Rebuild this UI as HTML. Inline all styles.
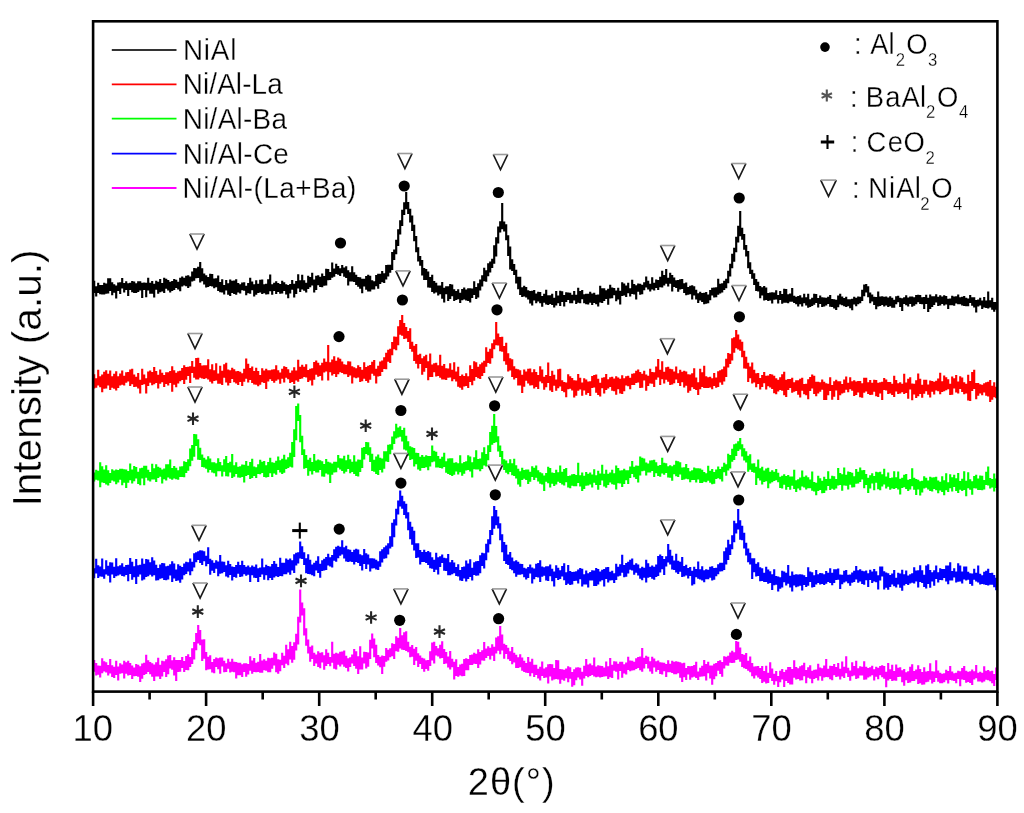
<!DOCTYPE html>
<html><head><meta charset="utf-8"><style>
html,body{margin:0;padding:0;background:#fff;}
svg{display:block;filter:blur(0.45px);}
text{font-family:"Liberation Sans",sans-serif;fill:#000;stroke:#fff;stroke-width:0.3px;paint-order:fill stroke;}
</style></head><body>
<svg width="1024" height="813" viewBox="0 0 1024 813">
<rect x="0" y="0" width="1024" height="813" fill="#fff"/>
<path d="M94.2,281.7V291.9M96.2,287.4V295.3M98.2,283.8V291.8M100.2,286.1V293.2M102.2,286.1V293.3M104.2,283.9V293.5M106.2,284.5V292.7M108.2,279.2V292.5M110.2,279.2V289.9M112.2,283.3V294.1M114.2,285.4V291.6M116.2,286.5V297.3M118.2,283.6V290.0M120.2,283.2V292.9M122.2,279.0V287.5M124.2,284.0V291.4M126.2,282.3V288.9M128.2,284.4V294.9M130.2,283.7V289.0M132.2,282.0V291.1M134.2,282.6V291.8M136.2,284.2V292.0M138.2,282.2V291.0M140.2,282.4V289.3M142.2,283.8V296.8M144.2,283.6V288.8M146.2,283.9V296.2M148.2,278.8V289.4M150.2,283.7V292.6M152.2,282.1V292.6M154.2,284.9V296.5M156.2,281.8V288.6M158.2,282.7V292.6M160.2,280.0V291.1M162.2,284.0V290.3M164.2,278.7V292.0M166.2,279.9V287.7M168.2,281.0V289.3M170.2,282.8V291.5M172.2,282.0V290.0M174.2,280.0V289.0M176.2,280.7V286.9M178.2,282.7V288.4M180.2,278.7V290.2M182.2,277.6V285.5M184.2,278.9V284.3M186.2,276.7V285.2M188.2,276.2V286.9M190.2,277.6V285.4M192.2,272.6V280.5M194.2,269.1V279.6M196.2,269.2V277.2M198.2,267.8V277.0M200.2,263.0V281.4M202.2,269.2V280.1M204.2,274.5V283.5M206.2,276.3V286.4M208.2,278.1V285.8M210.2,274.9V284.8M212.2,275.0V285.3M214.2,279.6V287.1M216.2,279.4V286.2M218.2,276.6V289.9M220.2,283.0V291.1M222.2,280.2V291.4M224.2,286.0V293.4M226.2,281.1V289.3M228.2,284.3V293.6M230.2,280.6V294.8M232.2,281.9V291.9M234.2,281.6V293.0M236.2,280.2V293.7M238.2,284.0V291.4M240.2,285.3V292.3M242.2,283.6V289.2M244.2,283.4V289.6M246.2,286.8V294.2M248.2,284.1V292.1M250.2,278.9V292.7M252.2,282.6V289.1M254.2,285.2V295.3M256.2,281.2V293.6M258.2,284.7V291.8M260.2,280.7V291.5M262.2,280.5V293.0M264.2,285.3V292.2M266.2,284.9V293.4M268.2,280.4V293.2M270.2,275.6V290.1M272.2,285.2V293.6M274.2,283.7V289.9M276.2,282.2V292.8M278.2,284.1V290.9M280.2,285.0V292.6M282.2,281.8V292.5M284.2,283.4V289.8M286.2,285.3V293.4M288.2,286.0V297.1M290.2,285.0V292.4M292.2,281.0V288.6M294.2,284.9V296.5M296.2,282.1V292.9M298.2,275.4V287.3M300.2,281.4V290.9M302.2,275.7V288.3M304.2,281.2V289.7M306.2,283.9V291.4M308.2,276.8V287.8M310.2,278.1V286.1M312.2,273.7V284.3M314.2,280.6V291.4M316.2,276.9V289.0M318.2,276.3V284.1M320.2,277.7V286.0M322.2,274.5V286.2M324.2,277.1V284.6M326.2,269.9V284.5M328.2,270.0V279.1M330.2,273.0V278.9M332.2,263.6V276.6M334.2,269.6V275.6M336.2,264.8V272.9M338.2,267.1V273.6M340.2,269.3V274.9M342.2,266.0V272.2M344.2,268.5V275.6M346.2,267.3V276.9M348.2,271.3V284.3M350.2,273.3V280.3M352.2,267.4V280.3M354.2,273.2V280.8M356.2,275.8V283.9M358.2,278.1V285.7M360.2,278.4V287.7M362.2,279.7V292.1M364.2,279.7V285.5M366.2,277.1V288.7M368.2,275.9V290.3M370.2,276.7V290.5M372.2,281.2V288.4M374.2,282.4V288.5M376.2,276.1V285.1M378.2,274.7V287.6M380.2,274.8V282.9M382.2,272.1V281.2M384.2,274.3V282.0M386.2,266.1V278.4M388.2,265.9V275.3M390.2,265.7V271.7M392.2,253.0V268.9M394.2,250.5V258.9M396.2,240.9V253.2M398.2,230.3V244.8M400.2,221.4V233.3M402.2,210.8V224.9M404.2,203.3V214.0M406.2,193.1V208.2M408.2,203.1V213.0M410.2,209.8V221.3M412.2,216.5V229.9M414.2,225.8V240.2M416.2,237.1V251.2M418.2,248.4V260.3M420.2,257.0V264.7M422.2,261.1V274.5M424.2,269.0V278.9M426.2,270.0V278.9M428.2,272.6V286.3M430.2,278.0V286.7M432.2,275.9V291.0M434.2,282.1V292.3M436.2,283.8V291.5M438.2,286.5V294.4M440.2,286.5V293.1M442.2,283.1V297.6M444.2,288.9V301.5M446.2,287.4V293.2M448.2,287.2V300.0M450.2,285.0V297.8M452.2,285.5V295.1M454.2,290.3V300.0M456.2,292.1V299.0M458.2,290.4V298.1M460.2,293.8V302.0M462.2,290.1V299.2M464.2,288.6V298.5M466.2,290.5V299.3M468.2,289.4V299.9M470.2,289.3V301.5M472.2,289.6V296.8M474.2,282.4V293.9M476.2,288.1V298.0M478.2,284.4V296.4M480.2,280.5V289.4M482.2,276.2V285.3M484.2,268.9V280.2M486.2,271.4V280.7M488.2,264.3V275.1M490.2,262.6V271.3M492.2,259.7V266.8M494.2,246.4V262.6M496.2,238.4V255.3M498.2,227.6V242.4M500.2,222.2V231.3M502.2,204.0V228.1M504.2,222.5V230.5M506.2,225.3V239.2M508.2,236.4V254.9M510.2,247.5V268.3M512.2,260.2V270.0M514.2,265.0V273.8M516.2,270.8V282.5M518.2,277.7V288.2M520.2,277.9V293.8M522.2,288.4V295.8M524.2,286.8V295.4M526.2,288.0V296.3M528.2,291.4V298.5M530.2,292.1V302.3M532.2,291.8V304.5M534.2,291.0V299.4M536.2,294.6V302.2M538.2,292.8V300.4M540.2,293.1V302.1M542.2,297.0V305.7M544.2,294.9V301.6M546.2,290.9V303.5M548.2,296.2V304.0M550.2,296.2V303.0M552.2,294.8V303.9M554.2,298.7V306.3M556.2,292.1V304.3M558.2,296.5V302.2M560.2,291.7V304.9M562.2,292.4V300.9M564.2,296.1V305.4M566.2,293.2V300.8M568.2,293.5V299.0M570.2,293.9V302.2M572.2,295.7V302.2M574.2,292.0V299.5M576.2,295.8V302.8M578.2,288.8V301.7M580.2,292.0V302.2M582.2,291.1V298.2M584.2,295.3V302.1M586.2,294.9V303.2M588.2,294.7V303.4M590.2,292.9V301.7M592.2,294.6V303.8M594.2,293.7V301.9M596.2,295.8V303.2M598.2,295.5V305.5M600.2,286.8V301.3M602.2,289.3V301.9M604.2,289.3V299.9M606.2,291.3V297.9M608.2,289.7V303.7M610.2,285.7V297.3M612.2,288.6V297.2M614.2,289.1V294.2M616.2,291.6V300.2M618.2,288.9V298.5M620.2,291.8V303.5M622.2,283.4V295.0M624.2,284.6V294.4M626.2,286.6V295.9M628.2,283.7V292.1M630.2,289.2V295.5M632.2,280.8V292.8M634.2,285.1V293.5M636.2,286.3V298.4M638.2,284.6V290.6M640.2,284.8V293.6M642.2,285.8V293.2M644.2,283.2V289.2M646.2,277.6V286.4M648.2,281.8V288.3M650.2,284.8V290.5M652.2,278.4V288.5M654.2,283.8V289.5M656.2,280.5V286.9M658.2,281.0V288.8M660.2,277.7V286.2M662.2,271.8V286.3M664.2,276.1V284.5M666.2,270.1V282.6M668.2,278.7V285.3M670.2,273.7V282.7M672.2,276.1V290.5M674.2,278.6V286.0M676.2,281.3V287.0M678.2,281.0V290.7M680.2,280.2V288.4M682.2,280.1V287.9M684.2,284.2V291.9M686.2,283.6V294.1M688.2,288.0V293.6M690.2,286.7V293.1M692.2,286.3V298.4M694.2,287.4V294.3M696.2,290.7V298.4M698.2,294.3V302.0M700.2,292.9V299.5M702.2,294.0V301.0M704.2,293.8V303.1M706.2,293.0V302.7M708.2,295.6V302.2M710.2,291.1V299.2M712.2,288.9V294.5M714.2,288.6V296.5M716.2,288.4V296.1M718.2,279.8V293.7M720.2,284.9V292.4M722.2,284.2V291.3M724.2,281.8V288.8M726.2,279.8V287.2M728.2,271.9V282.1M730.2,264.7V275.4M732.2,254.9V267.2M734.2,248.9V260.6M736.2,237.9V251.2M738.2,226.7V241.3M740.2,212.0V235.1M742.2,228.8V238.7M744.2,235.0V248.7M746.2,246.0V255.5M748.2,252.1V267.1M750.2,263.3V273.0M752.2,270.7V277.7M754.2,274.3V283.9M756.2,280.1V289.8M758.2,282.7V290.3M760.2,287.0V297.1M762.2,288.2V294.3M764.2,287.0V299.4M766.2,288.6V298.8M768.2,294.0V300.0M770.2,293.6V299.5M772.2,293.3V302.3M774.2,293.6V298.7M776.2,291.2V298.5M778.2,296.0V302.3M780.2,292.0V298.9M782.2,295.0V302.6M784.2,289.7V301.7M786.2,290.1V301.7M788.2,295.2V302.2M790.2,294.5V300.6M792.2,289.0V300.7M794.2,296.7V301.9M796.2,297.7V303.2M798.2,297.0V305.5M800.2,296.2V303.1M802.2,298.5V305.4M804.2,294.9V302.2M806.2,298.3V304.4M808.2,294.9V306.6M810.2,300.3V305.8M812.2,298.7V304.9M814.2,294.8V303.6M816.2,295.0V302.0M818.2,299.1V306.4M820.2,296.5V302.9M822.2,298.4V305.9M824.2,298.5V305.5M826.2,298.8V304.5M828.2,297.7V302.8M830.2,296.1V305.7M832.2,300.1V306.0M834.2,300.2V307.3M836.2,300.7V308.8M838.2,296.5V306.1M840.2,294.9V303.4M842.2,297.5V304.2M844.2,299.1V305.1M846.2,297.8V305.8M848.2,300.3V305.2M850.2,300.2V307.1M852.2,299.8V309.1M854.2,297.7V303.4M856.2,298.8V305.2M858.2,297.5V303.2M860.2,297.7V302.2M862.2,290.9V299.9M864.2,285.6V295.1M866.2,285.0V291.4M868.2,287.4V296.2M870.2,293.5V302.2M872.2,295.5V300.4M874.2,297.8V303.8M876.2,298.0V308.2M878.2,292.6V305.3M880.2,297.6V304.8M882.2,297.2V304.0M884.2,297.8V305.5M886.2,297.5V304.3M888.2,298.6V305.8M890.2,297.2V305.2M892.2,298.9V306.6M894.2,300.9V306.6M896.2,297.2V303.2M898.2,296.7V301.2M900.2,298.8V306.0M902.2,299.4V310.0M904.2,298.4V303.0M906.2,296.2V304.1M908.2,298.6V305.3M910.2,297.6V302.8M912.2,297.5V305.7M914.2,298.2V304.6M916.2,296.1V303.2M918.2,295.9V301.1M920.2,296.1V303.0M922.2,298.4V303.2M924.2,298.0V308.0M926.2,295.9V302.9M928.2,298.7V310.9M930.2,295.5V308.0M932.2,297.3V306.0M934.2,297.2V303.9M936.2,295.3V301.4M938.2,297.8V304.8M940.2,296.2V304.3M942.2,297.5V302.8M944.2,296.2V304.5M946.2,297.1V303.5M948.2,299.8V307.8M950.2,299.5V304.2M952.2,296.8V304.2M954.2,297.6V304.6M956.2,297.2V302.5M958.2,295.6V303.1M960.2,298.3V303.2M962.2,297.9V304.4M964.2,297.1V304.9M966.2,298.8V305.1M968.2,299.5V305.2M970.2,296.1V301.8M972.2,298.3V304.7M974.2,298.3V306.4M976.2,301.0V311.4M978.2,300.6V305.3M980.2,298.9V304.5M982.2,301.5V307.8M984.2,298.0V306.4M986.2,301.5V307.0M988.2,292.5V307.3M990.2,301.2V306.3M992.2,298.8V308.6M994.2,303.1V310.6M996.2,303.0V308.6" fill="none" stroke="#000000" stroke-width="2.15" stroke-linecap="square"/>
<path d="M94.2,375.2V387.4M96.2,379.2V386.7M98.2,370.9V384.5M100.2,377.2V386.2M102.2,375.5V391.2M104.2,372.7V387.6M106.2,371.4V387.4M108.2,374.8V384.5M110.2,371.5V389.0M112.2,377.2V386.7M114.2,374.8V387.7M116.2,372.3V389.3M118.2,377.4V386.9M120.2,374.5V384.4M122.2,371.6V383.7M124.2,376.8V384.5M126.2,373.4V381.7M128.2,373.0V380.3M130.2,370.6V384.8M132.2,369.9V383.1M134.2,375.6V385.9M136.2,377.9V385.6M138.2,374.1V387.3M140.2,380.8V392.3M142.2,369.8V384.0M144.2,375.6V383.1M146.2,379.3V392.3M148.2,372.5V385.0M150.2,371.6V381.6M152.2,373.1V384.1M154.2,368.0V383.2M156.2,372.1V381.9M158.2,375.8V387.4M160.2,370.6V382.6M162.2,373.7V381.1M164.2,376.0V385.9M166.2,373.2V382.9M168.2,373.4V384.4M170.2,372.0V381.8M172.2,367.2V390.6M174.2,371.2V383.7M176.2,373.7V386.2M178.2,372.3V382.3M180.2,371.9V380.1M182.2,369.0V378.8M184.2,366.4V382.8M186.2,368.1V378.7M188.2,367.8V375.0M190.2,367.2V381.8M192.2,362.1V372.0M194.2,367.9V376.6M196.2,359.0V378.5M198.2,358.9V378.5M200.2,364.0V376.6M202.2,366.5V377.4M204.2,366.2V377.8M206.2,366.2V377.1M208.2,360.2V378.5M210.2,370.4V380.7M212.2,365.3V382.3M214.2,371.4V379.9M216.2,364.4V379.5M218.2,374.5V382.6M220.2,366.7V382.6M222.2,371.9V383.8M224.2,365.4V376.6M226.2,363.9V381.5M228.2,370.5V384.4M230.2,371.2V381.8M232.2,368.9V377.8M234.2,370.3V381.1M236.2,372.4V382.4M238.2,372.1V383.9M240.2,372.7V381.0M242.2,374.3V384.8M244.2,369.8V380.6M246.2,359.6V377.7M248.2,364.7V381.3M250.2,369.0V379.0M252.2,367.5V381.8M254.2,372.1V383.4M256.2,368.9V383.6M258.2,372.0V385.2M260.2,376.0V383.6M262.2,369.4V381.2M264.2,371.5V382.0M266.2,369.7V388.0M268.2,371.4V380.5M270.2,371.2V378.2M272.2,370.5V379.9M274.2,370.4V381.7M276.2,366.3V379.6M278.2,371.4V378.3M280.2,373.5V382.6M282.2,369.7V377.6M284.2,367.4V381.4M286.2,368.0V376.6M288.2,370.2V378.1M290.2,373.8V381.9M292.2,371.6V381.0M294.2,368.2V382.8M296.2,371.6V379.5M298.2,360.9V380.7M300.2,367.8V377.8M302.2,365.7V377.4M304.2,367.8V375.8M306.2,365.3V376.5M308.2,371.1V381.0M310.2,369.8V379.5M312.2,369.3V384.5M314.2,363.0V378.6M316.2,361.6V373.6M318.2,363.7V375.6M320.2,366.3V375.0M322.2,363.7V379.3M324.2,359.5V371.4M326.2,362.9V370.4M328.2,346.0V379.4M330.2,363.3V371.2M332.2,360.6V374.5M334.2,357.4V372.8M336.2,361.9V375.9M338.2,358.5V373.1M340.2,359.9V371.2M342.2,362.6V371.8M344.2,365.2V373.1M346.2,365.9V373.1M348.2,362.3V376.0M350.2,362.6V374.4M352.2,367.2V382.5M354.2,368.4V376.5M356.2,369.4V377.1M358.2,366.3V376.5M360.2,368.1V380.8M362.2,370.8V380.2M364.2,363.3V377.6M366.2,368.1V380.0M368.2,366.9V381.6M370.2,366.0V378.7M372.2,362.7V372.7M374.2,361.1V374.6M376.2,369.7V382.5M378.2,366.8V375.4M380.2,362.6V374.9M382.2,361.6V371.0M384.2,358.3V367.8M386.2,353.8V368.1M388.2,350.9V360.7M390.2,349.7V362.0M392.2,343.1V354.2M394.2,337.5V348.2M396.2,337.7V349.2M398.2,327.4V344.2M400.2,321.0V333.7M402.2,316.0V334.6M404.2,324.0V337.9M406.2,328.1V337.3M408.2,332.1V341.0M410.2,329.4V347.8M412.2,342.7V350.7M414.2,346.9V360.0M416.2,345.1V362.6M418.2,355.9V367.4M420.2,354.8V362.8M422.2,359.3V373.6M424.2,357.3V370.6M426.2,355.8V366.8M428.2,362.2V379.1M430.2,354.6V375.8M432.2,365.5V375.8M434.2,364.2V371.2M436.2,363.9V375.3M438.2,366.3V374.9M440.2,355.7V376.7M442.2,366.8V378.4M444.2,365.1V378.5M446.2,369.2V379.0M448.2,369.5V376.6M450.2,364.2V376.3M452.2,370.9V380.2M454.2,363.4V378.1M456.2,372.6V380.3M458.2,367.8V385.7M460.2,377.0V386.6M462.2,375.5V388.7M464.2,377.1V385.5M466.2,374.2V384.9M468.2,377.4V386.9M470.2,366.3V380.9M472.2,370.0V384.1M474.2,362.4V379.6M476.2,363.3V375.9M478.2,367.8V377.1M480.2,365.3V377.9M482.2,363.6V374.9M484.2,361.8V371.9M486.2,348.3V365.6M488.2,352.7V361.9M490.2,349.7V362.7M492.2,344.2V357.1M494.2,340.5V348.1M496.2,323.0V344.2M498.2,334.5V344.3M500.2,338.0V350.2M502.2,337.9V350.6M504.2,347.0V360.1M506.2,343.9V363.7M508.2,354.2V370.3M510.2,359.3V369.4M512.2,360.4V376.0M514.2,367.4V378.4M516.2,369.8V377.0M518.2,370.4V384.4M520.2,371.2V384.4M522.2,375.7V392.0M524.2,370.6V385.7M526.2,372.5V379.6M528.2,369.7V382.5M530.2,369.5V384.3M532.2,373.4V384.2M534.2,370.4V387.5M536.2,373.1V385.8M538.2,376.1V387.9M540.2,367.2V380.5M542.2,370.5V382.1M544.2,377.9V388.6M546.2,376.0V386.2M548.2,363.5V382.0M550.2,377.0V389.5M552.2,371.8V390.8M554.2,375.9V384.6M556.2,380.6V389.6M558.2,370.3V387.2M560.2,369.9V385.5M562.2,381.2V390.0M564.2,383.1V391.2M566.2,383.6V396.1M568.2,375.4V388.1M570.2,377.2V387.7M572.2,379.0V389.5M574.2,381.2V396.5M576.2,381.6V394.6M578.2,375.0V389.6M580.2,378.9V388.4M582.2,383.6V394.6M584.2,379.4V389.4M586.2,380.5V393.6M588.2,382.6V391.8M590.2,382.2V394.9M592.2,377.0V387.0M594.2,376.1V386.5M596.2,375.6V391.6M598.2,379.8V393.9M600.2,383.8V395.4M602.2,378.7V387.2M604.2,378.3V392.5M606.2,375.0V388.9M608.2,380.2V387.3M610.2,378.4V386.0M612.2,377.7V389.6M614.2,379.5V390.2M616.2,377.4V393.6M618.2,378.5V388.2M620.2,379.7V392.4M622.2,376.4V392.8M624.2,379.3V390.2M626.2,377.4V384.5M628.2,376.9V385.2M630.2,378.9V388.2M632.2,374.7V384.0M634.2,374.4V383.8M636.2,371.8V381.8M638.2,370.6V381.3M640.2,373.1V386.9M642.2,374.9V386.6M644.2,371.7V379.4M646.2,375.6V389.6M648.2,376.8V384.8M650.2,369.8V382.3M652.2,373.0V382.6M654.2,373.4V385.9M656.2,367.5V378.7M658.2,360.1V376.3M660.2,370.8V384.0M662.2,362.4V378.1M664.2,372.7V382.4M666.2,368.4V378.7M668.2,367.9V380.7M670.2,369.8V384.0M672.2,370.4V383.5M674.2,372.6V382.1M676.2,367.6V378.3M678.2,374.3V381.9M680.2,370.7V384.8M682.2,372.9V381.1M684.2,371.7V386.5M686.2,372.6V384.6M688.2,375.2V391.6M690.2,375.6V389.7M692.2,374.2V386.1M694.2,369.4V388.0M696.2,378.5V388.9M698.2,383.2V393.8M700.2,369.7V388.2M702.2,373.3V385.9M704.2,366.8V386.8M706.2,377.2V386.8M708.2,378.2V386.8M710.2,377.9V386.5M712.2,379.2V388.2M714.2,374.1V384.9M716.2,378.6V386.6M718.2,372.4V385.8M720.2,371.4V381.5M722.2,370.2V383.7M724.2,367.5V380.3M726.2,359.7V376.0M728.2,354.0V366.4M730.2,354.8V362.8M732.2,339.4V359.4M734.2,338.3V351.6M736.2,331.0V347.2M738.2,335.6V348.3M740.2,340.6V349.6M742.2,342.8V356.1M744.2,351.7V367.3M746.2,357.9V367.6M748.2,363.9V380.9M750.2,367.5V377.1M752.2,363.6V382.3M754.2,370.7V381.4M756.2,374.2V386.2M758.2,374.1V382.9M760.2,379.1V388.3M762.2,376.1V385.9M764.2,373.1V382.1M766.2,376.8V388.5M768.2,376.6V385.1M770.2,375.0V386.5M772.2,375.6V387.9M774.2,376.8V392.1M776.2,379.3V393.1M778.2,380.8V390.5M780.2,378.2V388.9M782.2,375.2V389.7M784.2,372.7V394.2M786.2,380.9V395.8M788.2,380.0V388.8M790.2,380.0V387.0M792.2,378.9V391.6M794.2,383.3V390.6M796.2,381.3V390.0M798.2,381.4V393.7M800.2,379.8V396.4M802.2,378.9V389.7M804.2,385.1V393.2M806.2,384.7V394.2M808.2,380.4V398.1M810.2,378.1V390.0M812.2,375.5V387.5M814.2,376.8V392.8M816.2,382.7V395.2M818.2,382.8V392.4M820.2,383.4V390.6M822.2,380.6V388.6M824.2,382.8V398.9M826.2,384.2V398.9M828.2,384.7V394.1M830.2,378.4V389.8M832.2,386.1V398.7M834.2,382.2V395.7M836.2,380.7V389.5M838.2,382.2V398.8M840.2,382.3V394.2M842.2,385.0V392.5M844.2,380.6V391.7M846.2,377.6V388.6M848.2,383.7V391.2M850.2,378.2V388.2M852.2,382.2V389.7M854.2,381.4V395.0M856.2,382.5V393.9M858.2,382.1V391.4M860.2,382.0V396.2M862.2,384.3V396.7M864.2,378.9V391.6M866.2,378.8V390.4M868.2,383.3V393.0M870.2,381.1V394.0M872.2,383.7V393.6M874.2,380.9V390.6M876.2,381.1V395.2M878.2,383.7V395.9M880.2,383.4V392.5M882.2,382.8V398.9M884.2,379.0V388.8M886.2,380.5V389.5M888.2,383.1V392.8M890.2,383.0V392.5M892.2,384.7V393.8M894.2,376.8V395.8M896.2,381.0V390.3M898.2,384.4V392.9M900.2,383.2V392.3M902.2,384.7V391.2M904.2,374.8V392.8M906.2,383.5V391.9M908.2,379.7V397.6M910.2,378.4V388.5M912.2,384.5V399.1M914.2,384.8V393.4M916.2,381.4V397.0M918.2,374.5V395.1M920.2,379.9V393.0M922.2,385.8V396.6M924.2,380.8V392.7M926.2,380.7V390.1M928.2,385.6V393.7M930.2,381.6V396.4M932.2,382.0V390.7M934.2,382.9V393.5M936.2,381.9V389.4M938.2,379.6V390.2M940.2,373.9V393.1M942.2,382.4V391.0M944.2,376.6V390.1M946.2,378.3V389.2M948.2,380.4V388.2M950.2,384.7V393.9M952.2,377.6V393.6M954.2,379.3V387.3M956.2,376.1V391.3M958.2,382.5V392.4M960.2,377.2V387.9M962.2,378.6V390.8M964.2,383.3V393.2M966.2,384.9V392.3M968.2,375.7V399.3M970.2,382.1V399.8M972.2,373.1V390.0M974.2,370.9V387.9M976.2,384.1V398.2M978.2,384.1V394.6M980.2,385.3V392.5M982.2,385.7V394.2M984.2,384.3V391.3M986.2,383.3V394.7M988.2,382.8V395.4M990.2,381.0V400.9M992.2,386.8V398.7M994.2,383.3V396.1M996.2,387.7V397.1" fill="none" stroke="#ff0000" stroke-width="2.15" stroke-linecap="square"/>
<path d="M94.2,473.5V480.5M96.2,470.7V478.7M98.2,471.8V479.3M100.2,463.4V486.2M102.2,467.4V481.4M104.2,470.5V481.9M106.2,466.3V483.3M108.2,471.3V484.5M110.2,474.0V482.0M112.2,470.4V479.5M114.2,471.6V480.5M116.2,470.5V483.2M118.2,471.1V481.5M120.2,469.8V478.7M122.2,469.9V484.1M124.2,470.2V481.7M126.2,470.6V486.9M128.2,472.0V481.7M130.2,464.6V479.2M132.2,470.6V482.3M134.2,467.0V480.2M136.2,468.0V477.4M138.2,472.7V483.0M140.2,469.2V484.2M142.2,468.7V477.4M144.2,466.9V484.2M146.2,466.9V476.7M148.2,470.8V479.5M150.2,473.1V480.5M152.2,464.9V478.5M154.2,469.3V478.5M156.2,465.3V481.0M158.2,467.7V476.9M160.2,468.9V475.7M162.2,470.5V482.3M164.2,469.6V478.1M166.2,465.3V479.3M168.2,465.3V476.3M170.2,460.6V477.6M172.2,469.1V478.7M174.2,467.1V477.5M176.2,468.8V478.2M178.2,471.4V478.6M180.2,467.6V476.0M182.2,467.2V476.0M184.2,462.4V476.1M186.2,463.1V471.8M188.2,460.3V469.6M190.2,449.5V465.1M192.2,446.1V459.6M194.2,435.1V455.6M196.2,435.4V444.8M198.2,440.4V458.6M200.2,448.8V458.9M202.2,455.6V465.8M204.2,458.9V466.3M206.2,460.5V467.6M208.2,457.4V471.5M210.2,459.6V468.8M212.2,463.2V471.3M214.2,463.4V472.2M216.2,464.3V475.4M218.2,459.3V470.1M220.2,463.1V470.2M222.2,466.2V475.4M224.2,460.4V470.7M226.2,457.0V475.1M228.2,464.1V475.3M230.2,462.9V471.5M232.2,455.0V477.0M234.2,466.4V475.7M236.2,463.2V473.0M238.2,467.7V476.3M240.2,467.3V476.6M242.2,465.6V475.8M244.2,465.8V481.3M246.2,462.0V474.8M248.2,466.8V473.8M250.2,463.1V477.8M252.2,459.9V476.8M254.2,467.5V474.9M256.2,468.4V477.0M258.2,465.2V472.8M260.2,460.9V473.2M262.2,462.8V471.9M264.2,462.1V475.8M266.2,466.4V476.5M268.2,463.1V475.8M270.2,458.8V472.2M272.2,463.3V476.0M274.2,463.7V472.3M276.2,461.9V473.6M278.2,457.6V469.0M280.2,461.3V471.4M282.2,459.9V472.9M284.2,455.7V471.7M286.2,460.5V467.9M288.2,458.3V466.9M290.2,453.9V465.7M292.2,443.1V466.3M294.2,430.4V455.8M296.2,407.1V439.1M298.2,404.5V419.9M300.2,416.1V441.1M302.2,436.7V453.8M304.2,450.2V467.7M306.2,456.1V466.9M308.2,460.8V474.7M310.2,458.8V470.1M312.2,463.1V473.5M314.2,455.0V469.9M316.2,461.5V471.4M318.2,460.6V471.4M320.2,461.2V468.9M322.2,462.4V475.4M324.2,465.0V475.7M326.2,460.1V472.5M328.2,462.7V473.3M330.2,463.6V481.8M332.2,464.6V473.7M334.2,462.7V471.5M336.2,462.8V471.1M338.2,456.0V466.6M340.2,459.2V468.5M342.2,459.5V470.0M344.2,456.7V472.4M346.2,461.3V470.6M348.2,455.8V467.8M350.2,460.2V472.2M352.2,462.7V470.8M354.2,456.4V473.0M356.2,462.5V474.8M358.2,460.5V475.5M360.2,460.9V470.8M362.2,448.7V466.8M364.2,448.0V458.5M366.2,443.0V452.8M368.2,443.4V454.2M370.2,448.3V460.9M372.2,454.9V469.8M374.2,460.9V470.7M376.2,457.6V472.8M378.2,455.6V473.8M380.2,458.7V468.9M382.2,459.6V471.3M384.2,452.2V467.6M386.2,452.4V460.5M388.2,445.8V461.0M390.2,445.3V453.1M392.2,437.5V448.6M394.2,432.4V442.9M396.2,424.7V437.4M398.2,428.6V436.4M400.2,427.4V435.6M402.2,431.0V440.5M404.2,428.7V448.4M406.2,436.7V449.3M408.2,442.4V454.6M410.2,447.2V458.8M412.2,448.3V458.1M414.2,449.1V465.5M416.2,453.7V463.2M418.2,454.1V468.3M420.2,457.9V469.6M422.2,456.0V467.0M424.2,457.9V466.9M426.2,456.3V466.2M428.2,457.0V469.2M430.2,457.0V465.3M432.2,446.6V461.1M434.2,451.9V460.3M436.2,452.8V466.5M438.2,457.1V466.3M440.2,459.7V466.8M442.2,457.9V467.4M444.2,453.9V466.0M446.2,462.2V471.6M448.2,459.5V473.0M450.2,459.3V474.0M452.2,459.4V474.9M454.2,463.9V473.6M456.2,463.3V470.5M458.2,464.2V473.5M460.2,456.4V471.2M462.2,464.2V474.6M464.2,463.0V472.6M466.2,462.4V469.3M468.2,456.4V468.9M470.2,457.6V470.5M472.2,463.4V476.3M474.2,458.3V468.1M476.2,451.3V468.3M478.2,460.0V468.4M480.2,459.6V470.1M482.2,453.2V468.0M484.2,448.4V464.5M486.2,455.1V465.4M488.2,446.3V459.1M490.2,433.0V450.9M492.2,426.7V443.6M494.2,415.0V441.9M496.2,427.1V441.1M498.2,437.2V450.5M500.2,446.5V455.9M502.2,452.0V463.7M504.2,460.3V469.0M506.2,461.5V471.7M508.2,464.3V473.2M510.2,460.4V471.0M512.2,464.2V474.2M514.2,459.9V474.9M516.2,466.3V477.5M518.2,469.8V483.3M520.2,472.4V485.7M522.2,468.7V478.8M524.2,471.0V477.6M526.2,470.5V479.0M528.2,470.6V482.9M530.2,472.9V480.6M532.2,467.3V476.0M534.2,468.8V478.8M536.2,466.5V476.7M538.2,471.3V480.3M540.2,473.4V482.7M542.2,474.2V483.4M544.2,476.5V489.9M546.2,474.1V480.6M548.2,467.9V482.2M550.2,469.0V486.5M552.2,473.5V482.7M554.2,474.1V485.0M556.2,470.9V483.5M558.2,473.3V480.6M560.2,466.5V481.8M562.2,472.8V483.5M564.2,470.0V484.4M566.2,469.1V481.1M568.2,477.1V486.4M570.2,476.6V487.1M572.2,475.2V484.6M574.2,475.1V485.2M576.2,476.1V485.1M578.2,463.8V482.0M580.2,476.3V485.4M582.2,473.6V489.9M584.2,476.7V487.9M586.2,473.0V484.7M588.2,474.7V484.3M590.2,473.6V483.4M592.2,475.6V486.3M594.2,470.4V481.6M596.2,476.3V483.9M598.2,471.7V488.7M600.2,474.6V484.0M602.2,465.9V479.5M604.2,474.7V485.5M606.2,470.7V486.6M608.2,474.9V483.8M610.2,473.6V481.4M612.2,470.8V483.1M614.2,474.2V483.6M616.2,466.6V488.4M618.2,469.1V482.2M620.2,471.6V482.4M622.2,471.2V485.8M624.2,469.8V482.8M626.2,471.2V479.1M628.2,471.3V483.0M630.2,467.6V476.8M632.2,462.0V472.9M634.2,467.9V476.1M636.2,466.5V478.0M638.2,466.9V481.3M640.2,457.6V474.4M642.2,458.9V470.2M644.2,459.5V469.7M646.2,463.6V474.3M648.2,464.6V471.4M650.2,461.6V471.3M652.2,461.2V470.0M654.2,460.8V475.9M656.2,463.2V472.2M658.2,466.7V474.8M660.2,466.0V475.6M662.2,458.9V472.4M664.2,463.9V473.7M666.2,464.3V471.9M668.2,467.3V476.4M670.2,466.4V476.6M672.2,467.2V479.7M674.2,465.7V473.2M676.2,461.7V475.1M678.2,462.4V475.8M680.2,463.2V473.3M682.2,468.6V478.9M684.2,468.2V478.4M686.2,465.0V477.7M688.2,469.0V478.2M690.2,472.3V481.1M692.2,471.3V478.9M694.2,468.5V479.0M696.2,469.3V481.3M698.2,469.4V478.4M700.2,469.6V481.8M702.2,470.8V481.8M704.2,473.1V480.6M706.2,474.3V481.2M708.2,466.8V479.6M710.2,471.7V481.7M712.2,470.0V483.2M714.2,473.0V482.6M716.2,470.6V478.0M718.2,467.6V477.2M720.2,470.0V478.2M722.2,467.7V480.3M724.2,463.7V471.2M726.2,465.2V474.7M728.2,454.7V469.4M730.2,456.0V467.3M732.2,449.7V460.6M734.2,445.2V458.8M736.2,444.6V454.8M738.2,442.2V450.0M740.2,439.0V448.5M742.2,445.3V455.5M744.2,449.2V459.3M746.2,452.4V461.5M748.2,456.9V470.7M750.2,455.4V468.6M752.2,464.5V470.9M754.2,464.4V471.6M756.2,467.8V483.8M758.2,460.5V477.2M760.2,469.2V479.3M762.2,467.8V483.4M764.2,471.5V481.0M766.2,469.6V480.1M768.2,468.7V487.2M770.2,472.7V482.5M772.2,471.3V481.2M774.2,472.9V480.0M776.2,470.1V479.2M778.2,473.7V481.2M780.2,477.7V486.8M782.2,476.7V487.4M784.2,475.4V483.7M786.2,477.1V488.7M788.2,476.1V486.0M790.2,477.6V488.7M792.2,477.5V484.6M794.2,470.8V487.8M796.2,481.4V491.0M798.2,480.4V487.5M800.2,478.5V489.2M802.2,471.6V485.5M804.2,477.9V486.4M806.2,476.5V488.4M808.2,478.3V487.1M810.2,480.6V487.2M812.2,472.6V489.6M814.2,483.0V490.3M816.2,483.8V494.1M818.2,476.7V489.8M820.2,479.2V488.9M822.2,481.7V492.2M824.2,477.9V491.8M826.2,480.1V489.4M828.2,472.3V484.9M830.2,479.9V488.8M832.2,476.9V487.6M834.2,477.2V488.7M836.2,480.1V487.5M838.2,469.1V484.5M840.2,474.1V483.8M842.2,475.4V489.7M844.2,468.6V484.4M846.2,475.8V484.6M848.2,472.6V488.4M850.2,473.1V483.7M852.2,473.8V486.4M854.2,477.2V486.2M856.2,470.0V482.7M858.2,472.8V482.5M860.2,468.5V480.8M862.2,471.3V478.5M864.2,471.0V487.2M866.2,475.1V484.0M868.2,478.7V492.0M870.2,476.2V487.5M872.2,474.3V482.3M874.2,477.1V489.2M876.2,472.7V481.6M878.2,473.2V488.1M880.2,472.8V489.2M882.2,475.2V485.5M884.2,469.7V483.4M886.2,477.6V487.5M888.2,473.5V485.6M890.2,479.0V488.6M892.2,478.6V487.3M894.2,472.3V488.0M896.2,478.3V486.9M898.2,472.6V488.5M900.2,479.7V493.4M902.2,478.8V486.8M904.2,475.9V486.1M906.2,475.1V487.8M908.2,480.8V489.8M910.2,480.1V488.5M912.2,469.3V485.2M914.2,478.8V488.7M916.2,480.0V493.9M918.2,480.9V488.5M920.2,482.2V494.5M922.2,481.8V491.3M924.2,477.4V487.3M926.2,478.9V486.6M928.2,481.5V488.4M930.2,477.7V489.9M932.2,478.5V490.5M934.2,478.2V487.8M936.2,477.7V489.2M938.2,481.6V492.2M940.2,482.8V489.4M942.2,477.4V490.9M944.2,481.3V494.1M946.2,474.3V489.2M948.2,483.3V490.9M950.2,475.2V487.1M952.2,478.4V490.4M954.2,475.8V485.9M956.2,479.3V489.8M958.2,474.1V492.0M960.2,482.1V488.7M962.2,479.9V489.9M964.2,472.4V489.0M966.2,481.7V495.1M968.2,473.2V487.2M970.2,480.2V488.6M972.2,482.4V493.7M974.2,477.1V487.2M976.2,475.9V487.5M978.2,479.5V489.0M980.2,476.6V488.9M982.2,476.7V489.2M984.2,481.0V488.4M986.2,472.8V483.9M988.2,467.5V484.5M990.2,479.1V487.4M992.2,480.1V486.5M994.2,474.6V490.3M996.2,479.5V486.9" fill="none" stroke="#00ff00" stroke-width="2.15" stroke-linecap="square"/>
<path d="M94.2,569.3V577.1M96.2,559.8V572.4M98.2,566.3V576.8M100.2,567.6V575.5M102.2,559.6V575.6M104.2,570.2V577.6M106.2,561.2V573.4M108.2,566.7V574.6M110.2,563.2V581.5M112.2,563.6V573.5M114.2,567.7V576.8M116.2,559.2V575.2M118.2,567.2V574.4M120.2,566.3V573.3M122.2,564.4V575.0M124.2,567.8V575.5M126.2,566.0V573.9M128.2,565.8V580.1M130.2,559.1V573.0M132.2,562.8V578.6M134.2,567.4V576.2M136.2,560.0V582.9M138.2,566.4V575.6M140.2,565.9V573.5M142.2,559.5V579.3M144.2,564.9V578.5M146.2,560.1V576.0M148.2,560.5V575.2M150.2,563.4V573.7M152.2,558.3V575.4M154.2,561.5V574.1M156.2,565.7V579.3M158.2,569.1V579.1M160.2,565.5V577.7M162.2,564.1V577.2M164.2,564.4V578.8M166.2,567.3V579.1M168.2,566.9V578.3M170.2,565.4V574.3M172.2,562.2V580.9M174.2,564.5V577.5M176.2,570.5V579.9M178.2,565.4V579.4M180.2,566.9V581.7M182.2,568.0V578.4M184.2,564.5V574.2M186.2,562.7V573.0M188.2,563.2V570.3M190.2,559.6V574.1M192.2,562.8V570.2M194.2,554.2V566.5M196.2,553.2V561.1M198.2,552.2V559.0M200.2,551.2V562.0M202.2,551.6V564.0M204.2,552.2V560.1M206.2,556.8V565.1M208.2,548.3V563.0M210.2,559.9V573.6M212.2,561.3V569.6M214.2,563.7V571.9M216.2,561.3V567.7M218.2,562.6V575.2M220.2,556.1V572.7M222.2,562.5V572.2M224.2,562.8V570.9M226.2,566.4V575.5M228.2,561.7V576.5M230.2,565.1V573.8M232.2,567.6V579.3M234.2,568.1V575.8M236.2,566.1V576.6M238.2,562.9V572.6M240.2,566.0V575.8M242.2,561.8V575.5M244.2,566.0V573.1M246.2,567.9V574.7M248.2,566.5V573.7M250.2,568.2V581.0M252.2,566.6V574.1M254.2,567.8V576.7M256.2,565.5V576.9M258.2,569.2V580.9M260.2,568.6V576.0M262.2,559.6V573.5M264.2,568.3V578.7M266.2,565.7V574.2M268.2,567.1V579.2M270.2,567.6V576.8M272.2,565.0V578.8M274.2,562.0V576.4M276.2,564.8V575.2M278.2,568.1V576.0M280.2,558.9V574.9M282.2,563.8V575.2M284.2,563.7V573.1M286.2,559.6V573.1M288.2,560.9V571.4M290.2,559.5V573.7M292.2,561.3V569.3M294.2,555.2V571.8M296.2,553.8V564.4M298.2,553.3V562.4M300.2,542.5V557.3M302.2,547.4V557.8M304.2,553.4V563.9M306.2,559.4V572.1M308.2,555.4V573.0M310.2,560.9V573.1M312.2,565.6V574.2M314.2,563.7V575.1M316.2,561.9V569.5M318.2,557.3V571.9M320.2,564.8V576.6M322.2,561.4V569.9M324.2,559.9V569.5M326.2,558.0V569.0M328.2,554.8V564.5M330.2,558.4V565.4M332.2,556.0V566.4M334.2,550.2V559.6M336.2,547.8V560.7M338.2,546.7V557.2M340.2,547.7V554.7M342.2,541.2V553.4M344.2,548.4V557.3M346.2,546.8V560.5M348.2,550.2V560.9M350.2,550.7V560.5M352.2,553.1V560.9M354.2,550.7V563.4M356.2,549.9V560.8M358.2,550.6V562.0M360.2,555.2V564.8M362.2,556.2V569.4M364.2,550.1V562.9M366.2,554.3V567.9M368.2,555.5V563.4M370.2,559.2V570.5M372.2,559.4V567.5M374.2,559.5V567.2M376.2,560.9V568.3M378.2,562.2V568.9M380.2,552.2V565.7M382.2,550.2V561.3M384.2,548.4V557.7M386.2,546.5V557.2M388.2,544.2V553.4M390.2,537.2V547.5M392.2,523.8V545.6M394.2,520.2V536.2M396.2,509.7V524.3M398.2,501.5V513.5M400.2,491.5V505.4M402.2,496.9V507.7M404.2,502.2V514.0M406.2,504.9V517.3M408.2,513.4V529.2M410.2,522.9V538.1M412.2,527.9V543.6M414.2,531.8V549.3M416.2,544.2V556.8M418.2,544.2V556.3M420.2,551.1V563.3M422.2,553.0V560.8M424.2,550.8V560.9M426.2,553.1V561.8M428.2,552.1V563.9M430.2,553.3V567.1M432.2,558.2V567.7M434.2,560.8V571.0M436.2,553.7V568.7M438.2,558.3V573.4M440.2,557.3V565.9M442.2,555.6V562.0M444.2,558.7V569.6M446.2,559.3V570.0M448.2,555.0V574.1M450.2,563.2V574.2M452.2,561.0V573.1M454.2,563.5V572.2M456.2,568.0V575.0M458.2,565.2V575.4M460.2,571.0V579.4M462.2,568.1V579.8M464.2,567.6V577.4M466.2,561.5V580.3M468.2,564.6V578.0M470.2,560.2V575.8M472.2,568.9V579.5M474.2,563.3V574.0M476.2,562.2V574.6M478.2,562.0V574.4M480.2,556.4V572.1M482.2,553.7V565.0M484.2,554.3V567.4M486.2,544.7V559.1M488.2,540.3V551.4M490.2,531.1V543.2M492.2,517.2V533.9M494.2,507.0V527.7M496.2,511.0V524.1M498.2,517.5V527.4M500.2,524.2V539.2M502.2,535.3V551.1M504.2,543.0V559.8M506.2,545.8V562.9M508.2,555.6V563.8M510.2,553.0V568.0M512.2,558.5V569.2M514.2,562.2V572.2M516.2,561.4V575.7M518.2,562.9V573.6M520.2,564.7V573.7M522.2,565.0V573.2M524.2,568.8V576.2M526.2,569.6V578.5M528.2,568.0V576.8M530.2,565.6V572.5M532.2,568.5V582.4M534.2,569.5V578.2M536.2,564.8V576.0M538.2,564.0V576.4M540.2,561.3V580.9M542.2,567.6V575.6M544.2,568.2V574.7M546.2,567.3V579.3M548.2,567.3V580.0M550.2,565.5V575.2M552.2,569.9V580.1M554.2,572.5V585.5M556.2,566.2V576.8M558.2,568.8V579.0M560.2,571.2V577.8M562.2,567.1V575.4M564.2,564.3V579.1M566.2,573.2V583.9M568.2,566.0V582.6M570.2,572.0V583.9M572.2,573.1V583.5M574.2,572.7V580.0M576.2,572.4V579.6M578.2,570.5V582.5M580.2,569.0V578.1M582.2,569.8V585.3M584.2,575.2V583.3M586.2,571.6V583.5M588.2,574.2V586.3M590.2,573.1V579.3M592.2,571.3V579.4M594.2,571.6V584.8M596.2,569.1V585.0M598.2,570.1V583.4M600.2,572.6V580.5M602.2,570.7V579.1M604.2,570.0V585.4M606.2,568.3V577.9M608.2,568.1V581.4M610.2,572.7V579.5M612.2,571.8V579.2M614.2,574.4V581.9M616.2,564.9V578.9M618.2,567.8V575.5M620.2,565.3V574.7M622.2,555.9V571.6M624.2,566.0V576.1M626.2,564.1V575.6M628.2,562.9V572.5M630.2,560.8V568.6M632.2,559.6V569.4M634.2,565.7V573.7M636.2,564.4V571.7M638.2,565.6V574.5M640.2,569.4V577.7M642.2,567.8V579.1M644.2,568.9V576.7M646.2,560.8V581.4M648.2,564.2V576.7M650.2,567.9V575.8M652.2,566.5V577.7M654.2,567.9V578.7M656.2,565.6V576.0M658.2,557.0V574.9M660.2,555.5V571.3M662.2,557.0V568.2M664.2,560.1V573.9M666.2,557.3V565.4M668.2,545.0V561.5M670.2,550.9V563.3M672.2,556.7V568.5M674.2,561.5V568.8M676.2,554.7V571.3M678.2,561.9V572.8M680.2,562.9V570.7M682.2,558.1V576.0M684.2,567.1V575.3M686.2,565.9V574.4M688.2,569.1V577.4M690.2,568.0V574.9M692.2,571.7V584.5M694.2,567.7V583.2M696.2,570.1V576.2M698.2,562.6V577.6M700.2,570.2V578.4M702.2,567.3V579.5M704.2,571.2V581.1M706.2,570.4V578.1M708.2,570.7V578.1M710.2,567.9V576.7M712.2,567.3V579.3M714.2,569.0V578.7M716.2,568.8V575.1M718.2,565.3V573.1M720.2,563.8V570.3M722.2,563.9V570.1M724.2,552.4V569.0M726.2,548.6V563.4M728.2,540.9V559.0M730.2,545.2V554.0M732.2,536.3V548.1M734.2,521.9V541.1M736.2,524.3V532.3M738.2,510.0V528.4M740.2,521.3V538.7M742.2,526.7V539.1M744.2,533.8V547.3M746.2,543.7V554.4M748.2,549.6V561.2M750.2,553.9V563.3M752.2,559.2V577.8M754.2,559.2V571.2M756.2,564.8V575.5M758.2,563.4V574.8M760.2,568.4V580.2M762.2,569.3V579.8M764.2,573.8V580.8M766.2,567.9V580.8M768.2,570.5V582.7M770.2,572.4V581.8M772.2,575.3V588.8M774.2,570.3V584.1M776.2,577.1V583.7M778.2,577.6V590.4M780.2,578.3V587.6M782.2,571.9V586.3M784.2,572.5V581.2M786.2,573.9V584.5M788.2,566.1V582.7M790.2,576.9V586.5M792.2,572.6V590.5M794.2,575.8V584.5M796.2,575.2V586.1M798.2,575.5V585.4M800.2,575.2V584.6M802.2,575.6V589.4M804.2,576.2V583.9M806.2,578.0V585.8M808.2,568.4V584.6M810.2,572.5V580.8M812.2,573.2V586.4M814.2,576.4V586.0M816.2,571.1V583.3M818.2,575.2V581.8M820.2,574.0V583.3M822.2,574.3V583.0M824.2,575.3V584.0M826.2,572.0V582.6M828.2,573.7V580.8M830.2,569.2V582.0M832.2,573.8V584.1M834.2,570.3V581.9M836.2,570.3V579.0M838.2,569.6V578.7M840.2,575.5V587.8M842.2,575.9V583.1M844.2,571.7V581.3M846.2,571.0V580.5M848.2,575.8V582.2M850.2,575.6V584.6M852.2,573.6V581.6M854.2,571.7V580.9M856.2,567.1V578.5M858.2,571.3V581.6M860.2,570.3V580.5M862.2,571.8V583.0M864.2,572.3V583.6M866.2,571.6V579.1M868.2,574.3V585.8M870.2,570.9V578.9M872.2,572.6V581.9M874.2,570.0V580.3M876.2,572.4V581.2M878.2,576.2V588.3M880.2,567.5V579.4M882.2,567.6V575.5M884.2,572.4V588.3M886.2,573.5V586.6M888.2,574.2V588.7M890.2,576.0V585.8M892.2,574.5V583.3M894.2,571.0V585.1M896.2,578.9V586.4M898.2,573.8V583.5M900.2,574.5V586.7M902.2,570.8V589.7M904.2,575.2V584.4M906.2,571.5V582.9M908.2,576.5V584.0M910.2,575.2V582.5M912.2,574.3V581.7M914.2,568.4V582.3M916.2,571.6V580.3M918.2,571.4V586.3M920.2,566.3V580.8M922.2,571.2V582.0M924.2,575.9V586.0M926.2,566.6V587.4M928.2,565.4V583.0M930.2,571.0V586.7M932.2,573.2V580.4M934.2,571.3V584.6M936.2,566.5V577.8M938.2,573.3V581.5M940.2,569.4V578.8M942.2,570.1V579.1M944.2,570.0V577.0M946.2,566.6V580.4M948.2,566.6V583.2M950.2,563.2V579.5M952.2,572.1V579.3M954.2,569.3V576.5M956.2,572.5V581.4M958.2,564.3V580.6M960.2,566.5V580.5M962.2,572.5V582.5M964.2,567.5V578.5M966.2,567.5V579.5M968.2,572.7V578.7M970.2,574.4V583.0M972.2,574.6V584.7M974.2,569.9V578.7M976.2,573.9V580.4M978.2,566.5V581.5M980.2,574.9V583.4M982.2,576.4V582.9M984.2,572.8V583.3M986.2,571.7V583.8M988.2,569.9V584.4M990.2,574.0V583.7M992.2,573.9V583.6M994.2,576.0V586.2M996.2,578.9V589.2" fill="none" stroke="#0000ff" stroke-width="2.15" stroke-linecap="square"/>
<path d="M94.2,661.1V670.7M96.2,664.1V674.4M98.2,666.5V673.6M100.2,666.8V676.4M102.2,659.3V672.1M104.2,662.3V670.3M106.2,663.4V671.4M108.2,666.1V674.4M110.2,660.1V672.4M112.2,666.3V675.8M114.2,667.9V676.9M116.2,661.9V673.8M118.2,667.6V679.5M120.2,664.3V672.6M122.2,665.5V672.2M124.2,661.8V677.4M126.2,663.3V672.6M128.2,661.8V674.5M130.2,664.0V674.0M132.2,666.6V678.0M134.2,668.5V675.2M136.2,665.0V674.8M138.2,665.7V675.7M140.2,667.3V681.0M142.2,664.5V677.7M144.2,663.9V674.0M146.2,655.9V672.9M148.2,661.2V670.8M150.2,663.0V673.2M152.2,664.2V675.7M154.2,665.6V679.8M156.2,663.3V675.5M158.2,658.9V675.4M160.2,665.8V677.8M162.2,661.9V675.5M164.2,662.4V670.8M166.2,660.2V675.9M168.2,656.6V673.2M170.2,656.1V667.5M172.2,661.3V668.7M174.2,658.3V674.4M176.2,661.1V679.9M178.2,661.1V671.0M180.2,661.1V670.6M182.2,658.1V666.8M184.2,662.1V671.0M186.2,657.0V668.9M188.2,655.4V669.1M190.2,658.0V666.0M192.2,649.2V663.0M194.2,643.1V658.5M196.2,634.0V649.2M198.2,626.0V642.3M200.2,631.1V644.1M202.2,640.6V659.9M204.2,640.4V657.6M206.2,653.0V669.2M208.2,657.7V668.3M210.2,656.3V668.1M212.2,663.1V671.4M214.2,660.0V672.2M216.2,658.6V666.0M218.2,659.4V668.2M220.2,658.6V672.7M222.2,658.6V665.4M224.2,661.8V671.1M226.2,664.4V671.0M228.2,659.8V667.6M230.2,662.7V671.3M232.2,659.7V670.7M234.2,662.8V671.1M236.2,663.0V677.3M238.2,663.9V674.2M240.2,663.9V674.2M242.2,665.3V676.0M244.2,664.3V671.0M246.2,664.4V675.7M248.2,665.1V673.3M250.2,657.2V669.7M252.2,661.6V672.6M254.2,659.1V671.0M256.2,663.9V671.2M258.2,662.7V670.9M260.2,655.1V671.6M262.2,661.5V671.6M264.2,660.3V669.1M266.2,661.7V669.7M268.2,658.7V671.2M270.2,659.3V671.2M272.2,658.8V667.7M274.2,653.6V664.4M276.2,654.8V671.1M278.2,660.2V672.6M280.2,660.7V670.2M282.2,653.8V664.2M284.2,656.8V667.0M286.2,645.9V662.7M288.2,650.2V664.1M290.2,642.8V658.4M292.2,647.1V661.6M294.2,643.4V658.7M296.2,634.9V649.5M298.2,617.8V643.3M300.2,590.5V621.4M302.2,603.5V614.4M304.2,609.2V634.3M306.2,629.2V644.6M308.2,640.5V652.3M310.2,647.7V660.6M312.2,646.6V658.0M314.2,653.8V664.8M316.2,655.6V662.4M318.2,652.4V665.8M320.2,653.8V667.1M322.2,653.2V661.4M324.2,656.4V668.6M326.2,650.2V664.8M328.2,653.7V663.0M330.2,658.1V665.2M332.2,642.9V661.7M334.2,654.8V667.7M336.2,653.9V668.5M338.2,654.5V663.7M340.2,652.9V665.4M342.2,652.5V663.4M344.2,651.6V665.6M346.2,656.8V666.9M348.2,659.3V670.4M350.2,658.3V665.8M352.2,655.5V662.5M354.2,650.0V665.0M356.2,652.4V667.7M358.2,657.4V672.9M360.2,647.2V668.4M362.2,658.6V668.3M364.2,652.8V662.5M366.2,653.0V667.5M368.2,653.6V665.6M370.2,640.7V657.9M372.2,634.5V647.3M374.2,639.5V656.2M376.2,645.9V661.8M378.2,656.1V664.5M380.2,657.8V666.2M382.2,656.5V672.9M384.2,657.1V665.7M386.2,649.1V660.6M388.2,650.9V659.3M390.2,649.4V656.2M392.2,644.4V655.2M394.2,645.0V658.0M396.2,637.3V650.2M398.2,638.8V650.7M400.2,629.0V647.3M402.2,636.3V648.6M404.2,633.4V648.9M406.2,632.2V650.0M408.2,642.9V651.1M410.2,647.8V656.2M412.2,646.1V655.6M414.2,649.9V664.0M416.2,648.0V659.7M418.2,654.3V665.9M420.2,656.5V662.9M422.2,658.7V667.8M424.2,659.5V670.7M426.2,661.3V667.9M428.2,661.1V669.7M430.2,652.3V664.9M432.2,643.5V659.4M434.2,642.7V662.3M436.2,647.1V654.5M438.2,649.2V655.3M440.2,645.9V657.3M442.2,642.2V656.9M444.2,650.0V662.8M446.2,653.1V662.4M448.2,657.6V666.4M450.2,652.0V668.5M452.2,659.8V666.1M454.2,662.7V678.3M456.2,660.3V675.0M458.2,668.1V675.7M460.2,665.6V674.4M462.2,664.7V675.1M464.2,660.0V675.0M466.2,659.4V669.2M468.2,660.0V669.2M470.2,656.0V663.9M472.2,655.5V664.0M474.2,653.8V662.7M476.2,654.7V662.9M478.2,650.3V666.9M480.2,653.1V663.3M482.2,651.4V659.5M484.2,643.0V659.6M486.2,649.5V657.0M488.2,647.4V654.8M490.2,648.8V658.3M492.2,645.3V654.7M494.2,647.9V660.0M496.2,638.5V652.3M498.2,637.4V649.7M500.2,627.0V653.1M502.2,635.5V649.4M504.2,644.9V657.6M506.2,646.0V652.9M508.2,648.7V658.1M510.2,652.3V659.8M512.2,648.0V663.1M514.2,653.9V661.5M516.2,655.8V666.9M518.2,658.2V666.8M520.2,655.3V666.1M522.2,658.6V669.7M524.2,661.7V670.9M526.2,664.0V671.7M528.2,658.1V672.0M530.2,662.8V675.2M532.2,659.7V672.1M534.2,665.9V676.0M536.2,665.8V674.0M538.2,669.8V677.3M540.2,667.9V679.5M542.2,662.5V675.0M544.2,669.5V676.9M546.2,668.2V676.4M548.2,665.2V682.3M550.2,665.1V675.5M552.2,665.4V679.3M554.2,669.0V678.5M556.2,661.1V678.0M558.2,661.4V678.3M560.2,670.1V682.6M562.2,670.4V678.6M564.2,670.9V679.7M566.2,669.6V677.2M568.2,667.3V681.1M570.2,668.3V677.7M572.2,673.0V685.6M574.2,670.2V684.2M576.2,668.5V679.1M578.2,668.4V676.5M580.2,668.9V678.3M582.2,672.9V684.6M584.2,666.8V677.4M586.2,660.0V675.0M588.2,665.6V676.2M590.2,664.5V674.8M592.2,666.2V673.9M594.2,658.5V675.5M596.2,667.6V676.1M598.2,666.4V675.7M600.2,666.9V676.5M602.2,667.1V676.0M604.2,668.5V675.5M606.2,662.6V675.1M608.2,667.4V677.8M610.2,659.0V676.2M612.2,665.9V676.9M614.2,662.3V669.7M616.2,662.6V670.6M618.2,664.7V678.3M620.2,662.9V669.9M622.2,662.9V676.6M624.2,665.4V672.4M626.2,663.6V673.4M628.2,657.8V668.9M630.2,661.5V670.2M632.2,661.9V669.3M634.2,662.9V669.2M636.2,659.3V667.9M638.2,658.1V666.9M640.2,657.6V669.1M642.2,649.1V670.7M644.2,658.8V667.5M646.2,656.7V662.9M648.2,657.7V667.4M650.2,662.4V670.5M652.2,657.7V672.6M654.2,659.5V666.5M656.2,662.3V670.7M658.2,661.5V668.9M660.2,663.2V672.9M662.2,663.6V673.5M664.2,663.7V670.2M666.2,665.1V675.8M668.2,661.2V671.2M670.2,664.7V671.2M672.2,661.7V671.8M674.2,662.7V673.2M676.2,662.4V673.2M678.2,662.7V672.2M680.2,663.2V676.6M682.2,664.4V680.8M684.2,663.7V676.2M686.2,669.0V678.8M688.2,667.0V673.3M690.2,667.2V678.6M692.2,667.0V676.5M694.2,666.1V675.7M696.2,662.8V676.8M698.2,672.6V678.9M700.2,668.9V675.7M702.2,666.9V675.3M704.2,661.0V675.1M706.2,665.1V679.4M708.2,662.7V672.2M710.2,666.5V677.3M712.2,666.6V683.7M714.2,664.8V678.1M716.2,664.1V675.2M718.2,662.1V669.6M720.2,661.4V672.8M722.2,663.0V675.6M724.2,657.3V667.4M726.2,657.8V664.3M728.2,656.9V664.7M730.2,653.5V661.6M732.2,651.9V662.0M734.2,653.3V661.6M736.2,642.0V658.9M738.2,642.8V658.5M740.2,648.6V660.7M742.2,655.1V665.8M744.2,655.9V667.2M746.2,654.0V667.9M748.2,661.7V669.7M750.2,657.5V671.1M752.2,664.0V675.1M754.2,667.6V677.5M756.2,667.3V674.5M758.2,667.1V676.4M760.2,669.0V677.9M762.2,667.1V681.8M764.2,672.1V680.7M766.2,666.9V682.5M768.2,673.8V682.0M770.2,663.4V677.0M772.2,669.6V680.0M774.2,674.9V683.6M776.2,672.1V680.2M778.2,677.1V685.9M780.2,671.7V681.2M782.2,670.0V678.5M784.2,673.0V685.9M786.2,670.8V679.9M788.2,668.1V681.8M790.2,668.1V683.4M792.2,670.0V683.5M794.2,661.2V676.7M796.2,668.0V678.5M798.2,669.3V677.8M800.2,667.2V679.5M802.2,666.2V679.2M804.2,663.9V675.2M806.2,671.0V682.2M808.2,668.2V676.6M810.2,666.4V677.6M812.2,671.9V682.1M814.2,670.8V677.9M816.2,670.6V677.0M818.2,664.8V679.4M820.2,668.5V675.1M822.2,669.4V679.7M824.2,666.6V676.4M826.2,660.1V676.0M828.2,669.7V676.1M830.2,666.7V678.2M832.2,667.0V679.1M834.2,665.0V674.2M836.2,668.0V675.9M838.2,664.1V675.3M840.2,669.8V678.4M842.2,662.6V675.5M844.2,667.9V677.0M846.2,657.3V672.2M848.2,668.8V675.9M850.2,671.5V679.6M852.2,663.3V675.2M854.2,667.1V674.4M856.2,661.9V677.9M858.2,669.4V677.1M860.2,667.3V674.3M862.2,667.8V674.5M864.2,662.4V678.6M866.2,667.8V678.3M868.2,669.0V676.3M870.2,668.3V675.3M872.2,666.8V674.1M874.2,670.3V679.5M876.2,667.9V675.7M878.2,668.7V678.1M880.2,667.0V674.2M882.2,666.2V676.2M884.2,667.1V677.7M886.2,672.9V686.2M888.2,664.0V679.5M890.2,670.4V677.8M892.2,665.9V679.9M894.2,672.1V679.5M896.2,665.6V679.6M898.2,668.9V676.0M900.2,668.2V675.7M902.2,671.3V681.2M904.2,670.0V684.6M906.2,673.3V679.1M908.2,672.2V681.8M910.2,667.8V681.4M912.2,665.2V680.0M914.2,672.0V679.8M916.2,670.6V678.2M918.2,666.3V682.9M920.2,670.1V682.2M922.2,673.1V683.7M924.2,668.3V683.5M926.2,672.5V681.2M928.2,672.0V680.6M930.2,664.4V678.7M932.2,672.4V682.4M934.2,672.6V680.9M936.2,661.4V676.9M938.2,671.5V680.6M940.2,673.8V682.1M942.2,674.8V682.1M944.2,674.3V681.1M946.2,670.8V679.2M948.2,672.1V682.5M950.2,667.1V678.8M952.2,672.6V679.3M954.2,674.2V679.8M956.2,673.9V682.1M958.2,671.8V677.9M960.2,672.3V685.2M962.2,669.1V678.5M964.2,667.0V679.0M966.2,671.9V681.7M968.2,672.7V680.9M970.2,672.2V682.0M972.2,670.6V684.0M974.2,672.3V678.3M976.2,666.1V677.2M978.2,673.9V680.4M980.2,672.8V680.4M982.2,673.7V681.5M984.2,667.2V680.4M986.2,671.7V678.6M988.2,671.1V679.1M990.2,672.4V680.2M992.2,671.8V682.2M994.2,675.0V685.0M996.2,668.5V678.9" fill="none" stroke="#ff00ff" stroke-width="2.15" stroke-linecap="square"/>
<path d="M189.8,234.0 L197.0,249.0 L204.2,234.0" fill="none" stroke="#1a1a1a" stroke-width="1.7" stroke-linejoin="miter"/><path d="M189.8,234.0 L204.2,234.0" stroke="#9a9a9a" stroke-width="1.6"/>
<circle cx="340.5" cy="243.0" r="5.60" fill="#000"/>
<path d="M397.7,153.5 L404.9,168.5 L412.1,153.5" fill="none" stroke="#1a1a1a" stroke-width="1.7" stroke-linejoin="miter"/><path d="M397.7,153.5 L412.1,153.5" stroke="#9a9a9a" stroke-width="1.6"/>
<circle cx="404.2" cy="186.0" r="5.60" fill="#000"/>
<path d="M493.3,154.5 L500.5,169.5 L507.7,154.5" fill="none" stroke="#1a1a1a" stroke-width="1.7" stroke-linejoin="miter"/><path d="M493.3,154.5 L507.7,154.5" stroke="#9a9a9a" stroke-width="1.6"/>
<circle cx="498.3" cy="192.5" r="5.60" fill="#000"/>
<path d="M660.5,245.5 L667.7,260.5 L674.9,245.5" fill="none" stroke="#1a1a1a" stroke-width="1.7" stroke-linejoin="miter"/><path d="M660.5,245.5 L674.9,245.5" stroke="#9a9a9a" stroke-width="1.6"/>
<path d="M731.5,163.5 L738.7,178.5 L745.9,163.5" fill="none" stroke="#1a1a1a" stroke-width="1.7" stroke-linejoin="miter"/><path d="M731.5,163.5 L745.9,163.5" stroke="#9a9a9a" stroke-width="1.6"/>
<circle cx="739.2" cy="198.0" r="5.60" fill="#000"/>
<path d="M187.8,333.5 L195.0,348.5 L202.2,333.5" fill="none" stroke="#1a1a1a" stroke-width="1.7" stroke-linejoin="miter"/><path d="M187.8,333.5 L202.2,333.5" stroke="#9a9a9a" stroke-width="1.6"/>
<circle cx="339.0" cy="336.6" r="5.60" fill="#000"/>
<path d="M395.8,270.9 L403.0,285.9 L410.2,270.9" fill="none" stroke="#1a1a1a" stroke-width="1.7" stroke-linejoin="miter"/><path d="M395.8,270.9 L410.2,270.9" stroke="#9a9a9a" stroke-width="1.6"/>
<circle cx="402.4" cy="300.0" r="5.60" fill="#000"/>
<path d="M492.2,283.0 L499.4,298.0 L506.6,283.0" fill="none" stroke="#1a1a1a" stroke-width="1.7" stroke-linejoin="miter"/><path d="M492.2,283.0 L506.6,283.0" stroke="#9a9a9a" stroke-width="1.6"/>
<circle cx="497.0" cy="309.8" r="5.60" fill="#000"/>
<path d="M660.2,338.7 L667.4,353.7 L674.6,338.7" fill="none" stroke="#1a1a1a" stroke-width="1.7" stroke-linejoin="miter"/><path d="M660.2,338.7 L674.6,338.7" stroke="#9a9a9a" stroke-width="1.6"/>
<path d="M731.8,285.5 L739.0,300.5 L746.2,285.5" fill="none" stroke="#1a1a1a" stroke-width="1.7" stroke-linejoin="miter"/><path d="M731.8,285.5 L746.2,285.5" stroke="#9a9a9a" stroke-width="1.6"/>
<circle cx="739.4" cy="316.8" r="5.60" fill="#000"/>
<path d="M187.8,387.0 L195.0,402.0 L202.2,387.0" fill="none" stroke="#1a1a1a" stroke-width="1.7" stroke-linejoin="miter"/><path d="M187.8,387.0 L202.2,387.0" stroke="#9a9a9a" stroke-width="1.6"/>
<path d="M193.0,412.4V425.0M187.5,416.3L198.5,421.1M187.5,421.1L198.5,416.3" stroke="#262626" stroke-width="2.1" fill="none"/>
<path d="M294.4,385.5V398.1M288.9,389.4L299.9,394.2M288.9,394.2L299.9,389.4" stroke="#262626" stroke-width="2.1" fill="none"/>
<path d="M365.7,419.4V432.0M360.2,423.3L371.2,428.1M360.2,428.1L371.2,423.3" stroke="#262626" stroke-width="2.1" fill="none"/>
<path d="M394.7,379.2 L401.9,394.2 L409.1,379.2" fill="none" stroke="#1a1a1a" stroke-width="1.7" stroke-linejoin="miter"/><path d="M394.7,379.2 L409.1,379.2" stroke="#9a9a9a" stroke-width="1.6"/>
<circle cx="400.9" cy="410.5" r="5.60" fill="#000"/>
<path d="M432.0,427.6V440.2M426.5,431.5L437.5,436.3M426.5,436.3L437.5,431.5" stroke="#262626" stroke-width="2.1" fill="none"/>
<path d="M488.6,377.0 L495.8,392.0 L503.0,377.0" fill="none" stroke="#1a1a1a" stroke-width="1.7" stroke-linejoin="miter"/><path d="M488.6,377.0 L503.0,377.0" stroke="#9a9a9a" stroke-width="1.6"/>
<circle cx="494.6" cy="405.8" r="5.60" fill="#000"/>
<path d="M660.5,436.4 L667.7,451.4 L674.9,436.4" fill="none" stroke="#1a1a1a" stroke-width="1.7" stroke-linejoin="miter"/><path d="M660.5,436.4 L674.9,436.4" stroke="#9a9a9a" stroke-width="1.6"/>
<path d="M733.2,394.2 L740.4,409.2 L747.6,394.2" fill="none" stroke="#1a1a1a" stroke-width="1.7" stroke-linejoin="miter"/><path d="M733.2,394.2 L747.6,394.2" stroke="#9a9a9a" stroke-width="1.6"/>
<circle cx="738.7" cy="425.6" r="5.60" fill="#000"/>
<path d="M191.8,525.3 L199.0,540.3 L206.2,525.3" fill="none" stroke="#1a1a1a" stroke-width="1.7" stroke-linejoin="miter"/><path d="M191.8,525.3 L206.2,525.3" stroke="#9a9a9a" stroke-width="1.6"/>
<path d="M292.2,530.6H307.4" stroke="#000" stroke-width="3.0" fill="none"/><path d="M299.8,522.6V538.6" stroke="#000" stroke-width="2.1" fill="none"/>
<circle cx="339.2" cy="529.1" r="5.60" fill="#000"/>
<path d="M393.7,453.4 L400.9,468.4 L408.1,453.4" fill="none" stroke="#1a1a1a" stroke-width="1.7" stroke-linejoin="miter"/><path d="M393.7,453.4 L408.1,453.4" stroke="#9a9a9a" stroke-width="1.6"/>
<circle cx="400.9" cy="483.1" r="5.60" fill="#000"/>
<path d="M488.1,465.1 L495.3,480.1 L502.5,465.1" fill="none" stroke="#1a1a1a" stroke-width="1.7" stroke-linejoin="miter"/><path d="M488.1,465.1 L502.5,465.1" stroke="#9a9a9a" stroke-width="1.6"/>
<circle cx="495.3" cy="494.8" r="5.60" fill="#000"/>
<path d="M660.5,519.9 L667.7,534.9 L674.9,519.9" fill="none" stroke="#1a1a1a" stroke-width="1.7" stroke-linejoin="miter"/><path d="M660.5,519.9 L674.9,519.9" stroke="#9a9a9a" stroke-width="1.6"/>
<path d="M730.8,471.9 L738.0,486.9 L745.2,471.9" fill="none" stroke="#1a1a1a" stroke-width="1.7" stroke-linejoin="miter"/><path d="M730.8,471.9 L745.2,471.9" stroke="#9a9a9a" stroke-width="1.6"/>
<circle cx="738.7" cy="500.0" r="5.60" fill="#000"/>
<path d="M192.9,583.0 L200.1,598.0 L207.3,583.0" fill="none" stroke="#1a1a1a" stroke-width="1.7" stroke-linejoin="miter"/><path d="M192.9,583.0 L207.3,583.0" stroke="#9a9a9a" stroke-width="1.6"/>
<path d="M197.8,605.3V617.9M192.3,609.2L203.3,614.0M192.3,614.0L203.3,609.2" stroke="#262626" stroke-width="2.1" fill="none"/>
<path d="M301.0,574.6V587.2M295.5,578.5L306.5,583.3M295.5,583.3L306.5,578.5" stroke="#262626" stroke-width="2.1" fill="none"/>
<path d="M371.1,611.2V623.8M365.6,615.1L376.6,619.9M365.6,619.9L376.6,615.1" stroke="#262626" stroke-width="2.1" fill="none"/>
<path d="M393.7,588.9 L400.9,603.9 L408.1,588.9" fill="none" stroke="#1a1a1a" stroke-width="1.7" stroke-linejoin="miter"/><path d="M393.7,588.9 L408.1,588.9" stroke="#9a9a9a" stroke-width="1.6"/>
<circle cx="399.7" cy="620.3" r="5.60" fill="#000"/>
<path d="M439.5,625.3V637.9M434.0,629.2L445.0,634.0M434.0,634.0L445.0,629.2" stroke="#262626" stroke-width="2.1" fill="none"/>
<path d="M492.1,588.9 L499.3,603.9 L506.5,588.9" fill="none" stroke="#1a1a1a" stroke-width="1.7" stroke-linejoin="miter"/><path d="M492.1,588.9 L506.5,588.9" stroke="#9a9a9a" stroke-width="1.6"/>
<circle cx="498.6" cy="618.7" r="5.60" fill="#000"/>
<path d="M730.8,603.0 L738.0,618.0 L745.2,603.0" fill="none" stroke="#1a1a1a" stroke-width="1.7" stroke-linejoin="miter"/><path d="M730.8,603.0 L745.2,603.0" stroke="#9a9a9a" stroke-width="1.6"/>
<circle cx="736.4" cy="634.4" r="5.60" fill="#000"/>
<rect x="93.1" y="21.3" width="904.3" height="670.3" fill="none" stroke="#000" stroke-width="2.6"/>
<path d="M93.1,691.6 V706.1 M149.6,691.6 V699.6 M206.1,691.6 V706.1 M262.7,691.6 V699.6 M319.2,691.6 V706.1 M375.7,691.6 V699.6 M432.2,691.6 V706.1 M488.7,691.6 V699.6 M545.2,691.6 V706.1 M601.8,691.6 V699.6 M658.3,691.6 V706.1 M714.8,691.6 V699.6 M771.3,691.6 V706.1 M827.8,691.6 V699.6 M884.4,691.6 V706.1 M940.9,691.6 V699.6 M997.4,691.6 V706.1" stroke="#000" stroke-width="2.6" fill="none"/>
<text x="72.48" y="740.70" font-size="36.4">10</text>
<text x="185.99" y="740.70" font-size="36.4">20</text>
<text x="299.25" y="740.70" font-size="36.4">30</text>
<text x="412.56" y="740.70" font-size="36.4">40</text>
<text x="525.29" y="740.70" font-size="36.4">50</text>
<text x="638.13" y="740.70" font-size="36.4">60</text>
<text x="751.16" y="740.70" font-size="36.4">70</text>
<text x="864.34" y="740.70" font-size="36.4">80</text>
<text x="977.31" y="740.70" font-size="36.4">90</text>
<text x="467.79" y="794.70" font-size="38" style="letter-spacing:1.0px">2θ(°)</text>
<text transform="translate(40.8,378) rotate(-90)" text-anchor="middle" font-size="40.6">Intensity (a.u.)</text>
<line x1="111.8" y1="50" x2="176.5" y2="50" stroke="#333" stroke-width="1.8"/>
<text transform="translate(185.20,60.10) scale(0.93,1)" x="-2.46" y="0" font-size="30" style="letter-spacing:0.82px">NiAl</text>
<line x1="111.8" y1="84.3" x2="176.5" y2="84.3" stroke="#f00" stroke-width="1.8"/>
<text transform="translate(185.00,94.40) scale(0.93,1)" x="-2.46" y="0" font-size="30" style="letter-spacing:0.12px">Ni/Al-La</text>
<line x1="111.8" y1="118.6" x2="176.5" y2="118.6" stroke="#0f0" stroke-width="1.8"/>
<text transform="translate(185.00,128.70) scale(0.93,1)" x="-2.46" y="0" font-size="30" style="letter-spacing:0.30px">Ni/Al-Ba</text>
<line x1="111.8" y1="153.7" x2="176.5" y2="153.7" stroke="#00f" stroke-width="1.8"/>
<text transform="translate(185.00,163.80) scale(0.93,1)" x="-2.46" y="0" font-size="30" style="letter-spacing:0.36px">Ni/Al-Ce</text>
<line x1="111.8" y1="188" x2="176.5" y2="188" stroke="#f0f" stroke-width="1.8"/>
<text transform="translate(184.90,198.10) scale(0.93,1)" x="-2.46" y="0" font-size="30" style="letter-spacing:0.50px">Ni/Al-(La+Ba)</text>
<circle cx="825" cy="47.1" r="4.8" fill="#000"/>
<path d="M826.8,89.6V101.6M821.6,93.3L832.0,97.9M821.6,97.9L832.0,93.3" stroke="#555" stroke-width="2.1" fill="none"/>
<path d="M820.8,142.0H834.2" stroke="#000" stroke-width="3.0" fill="none"/><path d="M827.5,135.0V149.0" stroke="#000" stroke-width="2.1" fill="none"/>
<path d="M820.7,180.1 L828.5,196.3 L836.3,180.1" fill="none" stroke="#1a1a1a" stroke-width="1.7" stroke-linejoin="miter"/><path d="M820.7,180.1 L836.3,180.1" stroke="#9a9a9a" stroke-width="1.6"/>
<text transform="translate(856.60,54.20) scale(0.93,1)" x="-2.69" y="0" font-size="29.5">:</text>
<text transform="translate(870.20,54.20) scale(0.93,1)" x="-0.06" y="0" font-size="29.5">A</text>
<text transform="translate(890.40,54.20) scale(0.93,1)" x="-1.99" y="0" font-size="29.5">l</text>
<text transform="translate(896.60,66.00) scale(0.93,1)" x="-0.91" y="0" font-size="18">2</text>
<text transform="translate(907.60,54.20) scale(0.93,1)" x="-1.40" y="0" font-size="29.5">O</text>
<text transform="translate(928.60,66.00) scale(0.93,1)" x="-0.69" y="0" font-size="18">3</text>
<text transform="translate(852.60,106.70) scale(0.93,1)" x="-2.69" y="0" font-size="29.5">:</text>
<text transform="translate(867.90,106.70) scale(0.93,1)" x="-2.42" y="0" font-size="29.5">B</text>
<text transform="translate(886.30,106.70) scale(0.93,1)" x="-1.25" y="0" font-size="29.5">a</text>
<text transform="translate(901.50,106.70) scale(0.93,1)" x="-0.06" y="0" font-size="29.5">A</text>
<text transform="translate(921.80,106.70) scale(0.93,1)" x="-1.99" y="0" font-size="29.5">l</text>
<text transform="translate(926.90,118.10) scale(0.93,1)" x="-0.91" y="0" font-size="18">2</text>
<text transform="translate(938.30,106.70) scale(0.93,1)" x="-1.40" y="0" font-size="29.5">O</text>
<text transform="translate(959.30,118.10) scale(0.93,1)" x="-0.41" y="0" font-size="18">4</text>
<text transform="translate(853.30,152.00) scale(0.93,1)" x="-2.69" y="0" font-size="29.5">:</text>
<text transform="translate(867.90,152.00) scale(0.93,1)" x="-1.50" y="0" font-size="29.5">C</text>
<text transform="translate(888.80,152.00) scale(0.93,1)" x="-1.25" y="0" font-size="29.5">e</text>
<text transform="translate(904.70,152.00) scale(0.93,1)" x="-1.40" y="0" font-size="29.5">O</text>
<text transform="translate(926.30,164.10) scale(0.93,1)" x="-0.91" y="0" font-size="18">2</text>
<text transform="translate(854.50,198.00) scale(0.93,1)" x="-2.69" y="0" font-size="29.5">:</text>
<text transform="translate(870.40,198.00) scale(0.93,1)" x="-2.42" y="0" font-size="29.5">N</text>
<text transform="translate(890.70,198.00) scale(0.93,1)" x="-1.97" y="0" font-size="29.5">i</text>
<text transform="translate(896.40,198.00) scale(0.93,1)" x="-0.06" y="0" font-size="29.5">A</text>
<text transform="translate(916.70,198.00) scale(0.93,1)" x="-1.99" y="0" font-size="29.5">l</text>
<text transform="translate(921.20,209.50) scale(0.93,1)" x="-0.91" y="0" font-size="18">2</text>
<text transform="translate(932.60,198.00) scale(0.93,1)" x="-1.40" y="0" font-size="29.5">O</text>
<text transform="translate(953.50,209.50) scale(0.93,1)" x="-0.41" y="0" font-size="18">4</text>
</svg>
</body></html>
